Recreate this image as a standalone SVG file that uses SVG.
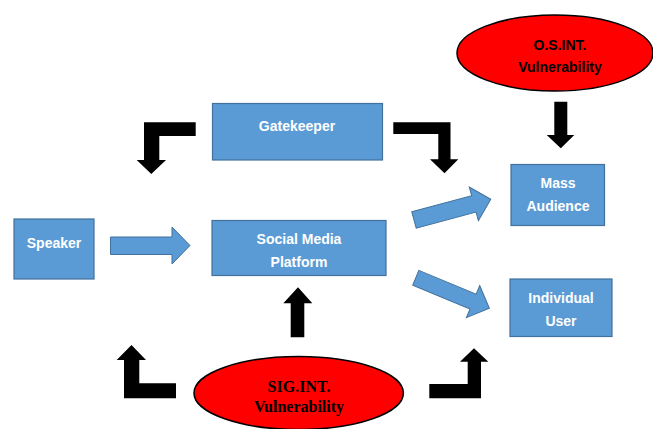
<svg xmlns="http://www.w3.org/2000/svg" width="653" height="429" viewBox="0 0 653 429">
<style>
.box{fill:#5b9bd5;stroke:#41719c;stroke-width:1.2}
.bt{fill:#ffffff;font-family:"Liberation Sans",Arial,sans-serif;font-weight:bold;font-size:14px;text-anchor:middle}
.ell{fill:#ff0000;stroke:#000;stroke-width:1.5}
.ot{fill:#000;font-family:"Liberation Sans",Arial,sans-serif;font-weight:bold;font-size:14px;text-anchor:middle}
.st{fill:#000;font-family:"Liberation Serif","Times New Roman",serif;font-weight:bold;font-size:16px;text-anchor:middle}
.ba{fill:#5b9bd5;stroke:#41719c;stroke-width:1}
.ka{fill:#000}
</style>
<rect width="653" height="429" fill="#fff"/>
<g id="osint">
<ellipse class="ell" cx="555" cy="53" rx="98" ry="38"/>
<text class="ot" x="560" y="49.5">O.S.INT.</text>
<text class="ot" x="560" y="72">Vulnerability</text>
</g>
<g id="sigint">
<ellipse class="ell" cx="298.7" cy="393" rx="104.7" ry="36.5"/>
<text class="st" x="299" y="392">SIG.INT.</text>
<text class="st" x="299" y="412">Vulnerability</text>
</g>
<g id="speaker">
<rect class="box" x="14" y="219" width="80" height="60"/>
<text class="bt" x="54" y="248">Speaker</text>
</g>
<g id="gatekeeper">
<rect class="box" x="212.5" y="103.5" width="170" height="56.5"/>
<text class="bt" x="297" y="130.5">Gatekeeper</text>
</g>
<g id="platform">
<rect class="box" x="212" y="220.5" width="174" height="55"/>
<text class="bt" x="299" y="244">Social Media</text>
<text class="bt" x="299" y="267">Platform</text>
</g>
<g id="mass">
<rect class="box" x="511" y="164.5" width="93.5" height="61"/>
<text class="bt" x="558" y="188">Mass</text>
<text class="bt" x="558" y="211">Audience</text>
</g>
<g id="individual">
<rect class="box" x="510" y="279" width="102" height="57.5"/>
<text class="bt" x="561" y="303">Individual</text>
<text class="bt" x="561" y="326">User</text>
</g>
<g id="connectors">
<polygon class="ba" points="110.5,237 172,237 172,227 190,245.5 172,264 172,254.5 110.5,254.5"/>
<polygon class="ba" transform="translate(414,220) rotate(-15.1)" points="0,-8.5 62,-8.5 62,-17.5 79.5,0 62,17.5 62,8.5 0,8.5"/>
<polygon class="ba" transform="translate(415.8,277.8) rotate(22.5)" points="0,-8 62,-8 62,-17.4 79.6,0 62,17.4 62,8 0,8"/>
<polygon class="ka" points="195.7,122.3 195.7,136 159.3,136 159.3,160 166,160 151.3,174 136.7,160 144,160 144,122.3"/>
<polygon class="ka" points="393.3,122.3 450.5,122.3 450.5,159.3 458.3,159.3 444.5,173.3 430,159.3 438.3,159.3 438.3,134 393.3,134"/>
<polygon class="ka" points="554.3,101.7 567.3,101.7 567.3,135 574.3,135 560.8,148.3 546.7,135 554.3,135"/>
<polygon class="ka" points="290.7,337.3 304.3,337.3 304.3,303.3 312.3,303.3 298,287.3 283.3,303.3 290.7,303.3"/>
<polygon class="ka" points="176,383.3 176,398.3 124,398.3 124,360 116.7,360 131.5,345 146,360 139.3,360 139.3,383.3"/>
<polygon class="ka" points="429.3,384 467.7,384 467.7,361.7 460,361.7 474,348.3 488.3,361.7 481,361.7 481,398.3 429.3,398.3"/>
</g>
</svg>
